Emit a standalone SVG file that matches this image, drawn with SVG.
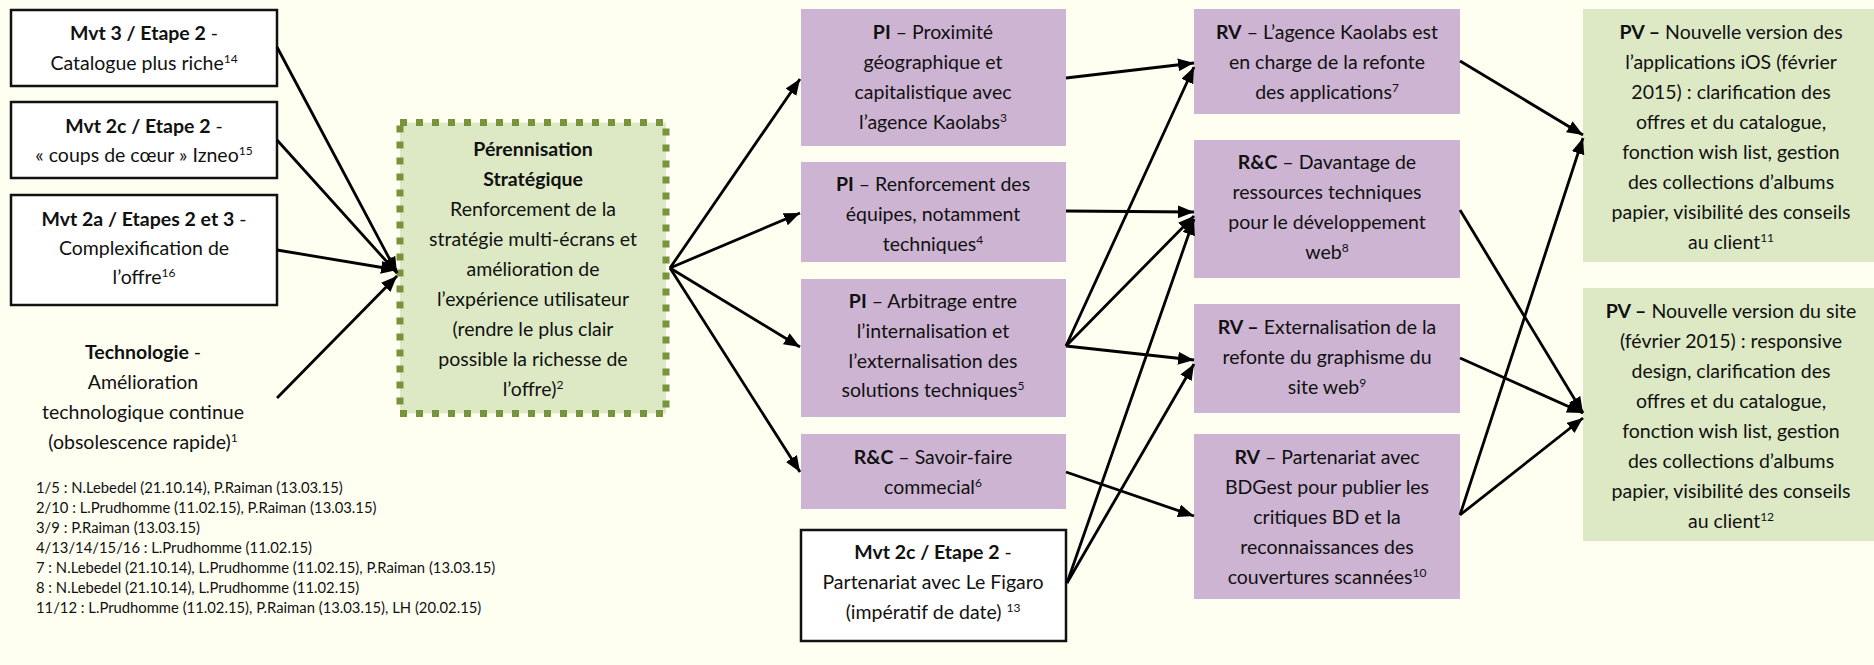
<svg xmlns="http://www.w3.org/2000/svg" width="1874" height="665" viewBox="0 0 1874 665">
<style>
.t{font-family:Lato,"Liberation Sans",sans-serif;font-size:19.5px;fill:#111;text-anchor:middle}
.b{font-weight:bold}
.s{font-size:12px}
.leg{font-family:Lato,"Liberation Sans",sans-serif;font-size:14.8px;fill:#111}
.wb{fill:#fff;stroke:#111;stroke-width:2.5}
.pu{fill:#CDB4D3}
.gr{fill:#DDE9C5}
.c line{stroke:#000;stroke-width:2.8;marker-end:url(#ah)}
</style>
<defs>
<marker id="ah" markerUnits="userSpaceOnUse" markerWidth="18" markerHeight="14" refX="16" refY="6.5" orient="auto" viewBox="0 0 18 14">
<path d="M0,0 L16,6.5 L0,13 z" fill="#000"/>
</marker>
</defs>
<rect width="1874" height="665" fill="#FEFEF1"/>

<g id="n-mvt3">
<rect class="wb" x="11" y="10" width="266" height="76"/>
<text class="t" x="144" y="40"><tspan class="b">Mvt 3 / Etape 2</tspan> -</text>
<text class="t" x="144" y="70">Catalogue plus riche<tspan class="s" dy="-7">14</tspan></text>
</g>
<g id="n-mvt2c">
<rect class="wb" x="11" y="102" width="266" height="76"/>
<text class="t" x="144" y="133"><tspan class="b">Mvt 2c / Etape 2</tspan> -</text>
<text class="t" x="144" y="162">« coups de cœur » Izneo<tspan class="s" dy="-7">15</tspan></text>
</g>
<g id="n-mvt2a">
<rect class="wb" x="11" y="195" width="266" height="110"/>
<text class="t" x="144" y="226"><tspan class="b">Mvt 2a / Etapes 2 et 3</tspan> -</text>
<text class="t" x="144" y="255">Complexification de</text>
<text class="t" x="144" y="284">l’offre<tspan class="s" dy="-7">16</tspan></text>
</g>
<g id="n-techno">
<text class="t" x="143" y="359"><tspan class="b">Technologie</tspan> -</text>
<text class="t" x="143" y="389">Amélioration</text>
<text class="t" x="143" y="419">technologique continue</text>
<text class="t" x="143" y="449">(obsolescence rapide)<tspan class="s" dy="-7">1</tspan></text>
</g>
<g id="n-perennisation">
<rect x="400" y="122.5" width="266" height="291" fill="#DDE9C5" stroke="#77933C" stroke-width="7" stroke-dasharray="7 9"/>
<text class="t b" x="533" y="156">Pérennisation</text>
<text class="t b" x="533" y="186">Stratégique</text>
<text class="t" x="533" y="216">Renforcement de la</text>
<text class="t" x="533" y="246">stratégie multi-écrans et</text>
<text class="t" x="533" y="276">amélioration de</text>
<text class="t" x="533" y="306">l’expérience utilisateur</text>
<text class="t" x="533" y="336">(rendre le plus clair</text>
<text class="t" x="533" y="366">possible la richesse de</text>
<text class="t" x="533" y="396">l’offre)<tspan class="s" dy="-7">2</tspan></text>
</g>
<g id="n-pi1">
<rect class="pu" x="801" y="9" width="265" height="137"/>
<text class="t" x="933" y="39"><tspan class="b">PI</tspan> – Proximité</text>
<text class="t" x="933" y="69">géographique et</text>
<text class="t" x="933" y="99">capitalistique avec</text>
<text class="t" x="933" y="129">l’agence Kaolabs<tspan class="s" dy="-7">3</tspan></text>
</g>
<g id="n-pi2">
<rect class="pu" x="801" y="162" width="265" height="100"/>
<text class="t" x="933" y="191"><tspan class="b">PI</tspan> – Renforcement des</text>
<text class="t" x="933" y="221">équipes, notamment</text>
<text class="t" x="933" y="251">techniques<tspan class="s" dy="-7">4</tspan></text>
</g>
<g id="n-pi3">
<rect class="pu" x="801" y="279" width="265" height="138"/>
<text class="t" x="933" y="308"><tspan class="b">PI</tspan> – Arbitrage entre</text>
<text class="t" x="933" y="338">l’internalisation et</text>
<text class="t" x="933" y="368">l’externalisation des</text>
<text class="t" x="933" y="397">solutions techniques<tspan class="s" dy="-7">5</tspan></text>
</g>
<g id="n-rc1">
<rect class="pu" x="801" y="434" width="265" height="75"/>
<text class="t" x="933" y="464"><tspan class="b">R&amp;C</tspan> – Savoir-faire</text>
<text class="t" x="933" y="494">commecial<tspan class="s" dy="-7">6</tspan></text>
</g>
<g id="n-figaro">
<rect class="wb" x="801" y="530" width="265" height="111"/>
<text class="t" x="933" y="559"><tspan class="b">Mvt 2c / Etape 2</tspan> -</text>
<text class="t" x="933" y="589">Partenariat avec Le Figaro</text>
<text class="t" x="933" y="619">(impératif de date) <tspan class="s" dy="-7">13</tspan></text>
</g>
<g id="n-rv1">
<rect class="pu" x="1194" y="9" width="266" height="105"/>
<text class="t" x="1327" y="39"><tspan class="b">RV</tspan> – L’agence Kaolabs est</text>
<text class="t" x="1327" y="69">en charge de la refonte</text>
<text class="t" x="1327" y="99">des applications<tspan class="s" dy="-7">7</tspan></text>
</g>
<g id="n-rc2">
<rect class="pu" x="1194" y="140" width="266" height="138"/>
<text class="t" x="1327" y="169"><tspan class="b">R&amp;C</tspan> – Davantage de</text>
<text class="t" x="1327" y="199">ressources techniques</text>
<text class="t" x="1327" y="229">pour le développement</text>
<text class="t" x="1327" y="259">web<tspan class="s" dy="-7">8</tspan></text>
</g>
<g id="n-rv2">
<rect class="pu" x="1194" y="304" width="266" height="109"/>
<text class="t" x="1327" y="334"><tspan class="b">RV –</tspan> Externalisation de la</text>
<text class="t" x="1327" y="364">refonte du graphisme du</text>
<text class="t" x="1327" y="394">site web<tspan class="s" dy="-7">9</tspan></text>
</g>
<g id="n-rv3">
<rect class="pu" x="1194" y="434" width="266" height="165"/>
<text class="t" x="1327" y="464"><tspan class="b">RV</tspan> – Partenariat avec</text>
<text class="t" x="1327" y="494">BDGest pour publier les</text>
<text class="t" x="1327" y="524">critiques BD et la</text>
<text class="t" x="1327" y="554">reconnaissances des</text>
<text class="t" x="1327" y="584">couvertures scannées<tspan class="s" dy="-7">10</tspan></text>
</g>
<g id="n-pv1">
<rect class="gr" x="1583" y="9" width="297" height="253"/>
<text class="t" x="1731" y="39"><tspan class="b">PV –</tspan> Nouvelle version des</text>
<text class="t" x="1731" y="69">l’applications iOS (février</text>
<text class="t" x="1731" y="99">2015) : clarification des</text>
<text class="t" x="1731" y="129">offres et du catalogue,</text>
<text class="t" x="1731" y="159">fonction wish list, gestion</text>
<text class="t" x="1731" y="189">des collections d’albums</text>
<text class="t" x="1731" y="219">papier, visibilité des conseils</text>
<text class="t" x="1731" y="249">au client<tspan class="s" dy="-7">11</tspan></text>
</g>
<g id="n-pv2">
<rect class="gr" x="1583" y="288" width="297" height="253"/>
<text class="t" x="1731" y="318"><tspan class="b">PV –</tspan> Nouvelle version du site</text>
<text class="t" x="1731" y="348">(février 2015) : responsive</text>
<text class="t" x="1731" y="378">design, clarification des</text>
<text class="t" x="1731" y="408">offres et du catalogue,</text>
<text class="t" x="1731" y="438">fonction wish list, gestion</text>
<text class="t" x="1731" y="468">des collections d’albums</text>
<text class="t" x="1731" y="498">papier, visibilité des conseils</text>
<text class="t" x="1731" y="528">au client<tspan class="s" dy="-7">12</tspan></text>
</g>
<g id="legend">
<text class="leg" x="36" y="493">1/5 : N.Lebedel (21.10.14), P.Raiman (13.03.15)</text>
<text class="leg" x="36" y="513">2/10 : L.Prudhomme (11.02.15), P.Raiman (13.03.15)</text>
<text class="leg" x="36" y="533">3/9 : P.Raiman (13.03.15)</text>
<text class="leg" x="36" y="553">4/13/14/15/16 : L.Prudhomme (11.02.15)</text>
<text class="leg" x="36" y="573">7 : N.Lebedel (21.10.14), L.Prudhomme (11.02.15), P.Raiman (13.03.15)</text>
<text class="leg" x="36" y="593">8 : N.Lebedel (21.10.14), L.Prudhomme (11.02.15)</text>
<text class="leg" x="36" y="613">11/12 : L.Prudhomme (11.02.15), P.Raiman (13.03.15), LH (20.02.15)</text>
</g>
<g id="connectors" class="c">
<line x1="277" y1="47" x2="397" y2="273"/>
<line x1="277" y1="140" x2="397" y2="273"/>
<line x1="277" y1="250" x2="397" y2="270"/>
<line x1="277" y1="398" x2="397" y2="276"/>
<line x1="670" y1="268" x2="800" y2="79"/>
<line x1="670" y1="268" x2="800" y2="213"/>
<line x1="670" y1="268" x2="800" y2="347"/>
<line x1="670" y1="268" x2="800" y2="472"/>
<line x1="1066" y1="78" x2="1194" y2="63"/>
<line x1="1066" y1="211" x2="1194" y2="212"/>
<line x1="1066" y1="346" x2="1194" y2="67"/>
<line x1="1066" y1="346" x2="1194" y2="216"/>
<line x1="1066" y1="346" x2="1194" y2="360"/>
<line x1="1066" y1="472" x2="1194" y2="516"/>
<line x1="1067" y1="583" x2="1194" y2="219"/>
<line x1="1067" y1="583" x2="1194" y2="364"/>
<line x1="1460" y1="61" x2="1583" y2="135"/>
<line x1="1460" y1="515" x2="1583" y2="138"/>
<line x1="1460" y1="210" x2="1583" y2="413"/>
<line x1="1460" y1="358" x2="1583" y2="413"/>
<line x1="1460" y1="515" x2="1583" y2="418"/>
</g>
</svg>
